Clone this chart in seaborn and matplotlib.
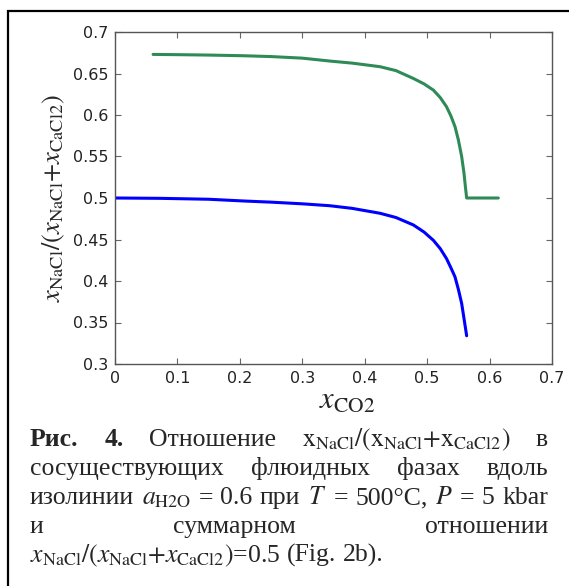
import matplotlib
matplotlib.use("Agg")
import matplotlib.pyplot as plt
from matplotlib.patches import Rectangle
import numpy as np
import pandas as pd
import seaborn as sns

# NaCl fraction in the two coexisting fluid phases along the a_H2O = 0.6 isoline
green_x = [0.061, 0.100, 0.150, 0.206, 0.250, 0.300, 0.344, 0.380, 0.4245, 0.450,
           0.478, 0.495, 0.510, 0.521, 0.531, 0.538, 0.5446, 0.550, 0.5553, 0.559,
           0.5615, 0.5633, 0.614]
green_y = [0.6730, 0.6727, 0.6722, 0.6714, 0.6704, 0.6685, 0.6650, 0.6625, 0.6582, 0.6535,
           0.6440, 0.6375, 0.6300, 0.6210, 0.6100, 0.5990, 0.5860, 0.5700, 0.5500, 0.5300,
           0.5120, 0.5000, 0.5000]

blue_x = [0.000, 0.072, 0.150, 0.206, 0.250, 0.300, 0.344, 0.380, 0.4245, 0.450,
          0.478, 0.495, 0.510, 0.521, 0.531, 0.538, 0.5446, 0.550, 0.5553, 0.559,
          0.5633]
blue_y = [0.5000, 0.4996, 0.4985, 0.4964, 0.4950, 0.4930, 0.4907, 0.4875, 0.4816, 0.4765,
          0.4675, 0.4590, 0.4490, 0.4390, 0.4270, 0.4160, 0.4050, 0.3900, 0.3730, 0.3550,
          0.3340]

x_ticks = [0, 0.1, 0.2, 0.3, 0.4, 0.5, 0.6, 0.7]
x_tick_labels = ["0", "0.1", "0.2", "0.3", "0.4", "0.5", "0.6", "0.7"]
y_ticks = [0.3, 0.35, 0.4, 0.45, 0.5, 0.55, 0.6, 0.65, 0.7]
y_tick_labels = ["0.3", "0.35", "0.4", "0.45", "0.5", "0.55", "0.6", "0.65", "0.7"]

caption_lines = [
    [("Рис.", "bold"), ("4.", "bold"), ("Отношение", "normal"),
     (r"$\mathrm{x}_{\mathrm{NaCl}}/(\mathrm{x}_{\mathrm{NaCl}}{+}\mathrm{x}_{\mathrm{CaCl2}})$", "normal"),
     ("в", "normal")],
    [("сосуществующих", "normal"), ("флюидных", "normal"), ("фазах", "normal"), ("вдоль", "normal")],
    [("изолинии", "normal"), (r"$a_{\mathrm{H2O}}$", "normal"), ("=", "normal"), ("0.6", "normal"),
     ("при", "normal"), (r"$T$", "normal"), ("=", "normal"), ("500°C,", "normal"),
     (r"$P$", "normal"), ("=", "normal"), ("5", "normal"), ("kbar", "normal")],
    [("и", "normal"), ("суммарном", "normal"), ("отношении", "normal")],
    [(r"$x_{\mathrm{NaCl}}/(x_{\mathrm{NaCl}}{+}x_{\mathrm{CaCl2}})$=0.5", "normal"), ("(Fig.", "normal"),
     ("2b).", "normal")],
]

sns.set_style("ticks")
plt.rcParams["mathtext.fontset"] = "stix"
plt.rcParams["font.family"] = ["DejaVu Sans"]

df = pd.concat([
    pd.DataFrame({"xCO2": green_x, "ratio": green_y, "phase": "green"}),
    pd.DataFrame({"xCO2": blue_x, "ratio": blue_y, "phase": "blue"}),
], ignore_index=True)

W, H = 569, 586
fig = plt.figure(figsize=(W / 100, H / 100), dpi=100)
ax = fig.add_axes([115 / W, 1 - 364 / H, (552 - 115) / W, (364 - 32) / H])

sns.lineplot(data=df, x="xCO2", y="ratio", hue="phase", units="phase",
             estimator=None, sort=False, palette={"green": "#2e8b57", "blue": "#0000ff"},
             linewidth=2.2, legend=False, ax=ax)

ax.set_xlim(0, 0.7)
ax.set_ylim(0.3, 0.7)
ax.set_xticks(x_ticks)
ax.set_xticklabels(x_tick_labels)
ax.set_yticks(y_ticks)
ax.set_yticklabels(y_tick_labels)
ax.tick_params(direction="in", length=4, width=0.8, color="#666666",
               top=True, right=True, labelsize=11.5, labelcolor="#222222", pad=5)
for sp in ax.spines.values():
    sp.set_color("#555555")
    sp.set_linewidth(1.0)

ax.set_xlabel(r"$x_{\mathrm{CO2}}$", fontsize=22, labelpad=0)
ax.xaxis.label.set_x(0.531)
ax.set_ylabel(r"$x_{\mathrm{NaCl}}/(x_{\mathrm{NaCl}}{+}x_{\mathrm{CaCl2}})$", fontsize=19, labelpad=4)

# frame around the figure and its caption
fig.add_artist(Rectangle((8 / W, -0.05), 1.1, 1.05 - 11 / H, transform=fig.transFigure,
                         fill=False, edgecolor="black", linewidth=1.6, clip_on=False))

# justified caption below the plot
left_px, right_px = 30, 548
renderer = fig.canvas.get_renderer()
serif = ["Liberation Serif", "DejaVu Serif"]


def word_width(txt, weight, size):
    t = fig.text(0, 0, txt, fontsize=size, fontweight=weight, family=serif)
    w = t.get_window_extent(renderer).width
    t.remove()
    return w


def space_width(size):
    return word_width("a a", "normal", size) - 2 * word_width("a", "normal", size)


# size the caption so the fullest line spans the text block with plain spaces
ref = caption_lines[2]
base = sum(word_width(t, wgt, 10) for t, wgt in ref) + (len(ref) - 1) * space_width(10)
cap_size = 10 * (right_px - left_px) / base * 0.99

baselines = [446, 475, 504, 533, 562]
space = space_width(cap_size)
for i, (line, yb) in enumerate(zip(caption_lines, baselines)):
    widths = [word_width(t, wgt, cap_size) for t, wgt in line]
    last = i == len(caption_lines) - 1
    gap = space if last else (right_px - left_px - sum(widths)) / (len(line) - 1)
    x = left_px
    for (t, wgt), w in zip(line, widths):
        fig.text(x / W, 1 - yb / H, t, fontsize=cap_size, fontweight=wgt, family=serif,
                 va="baseline", ha="left")
        x += w + gap

fig.savefig("out.png", dpi=100)
